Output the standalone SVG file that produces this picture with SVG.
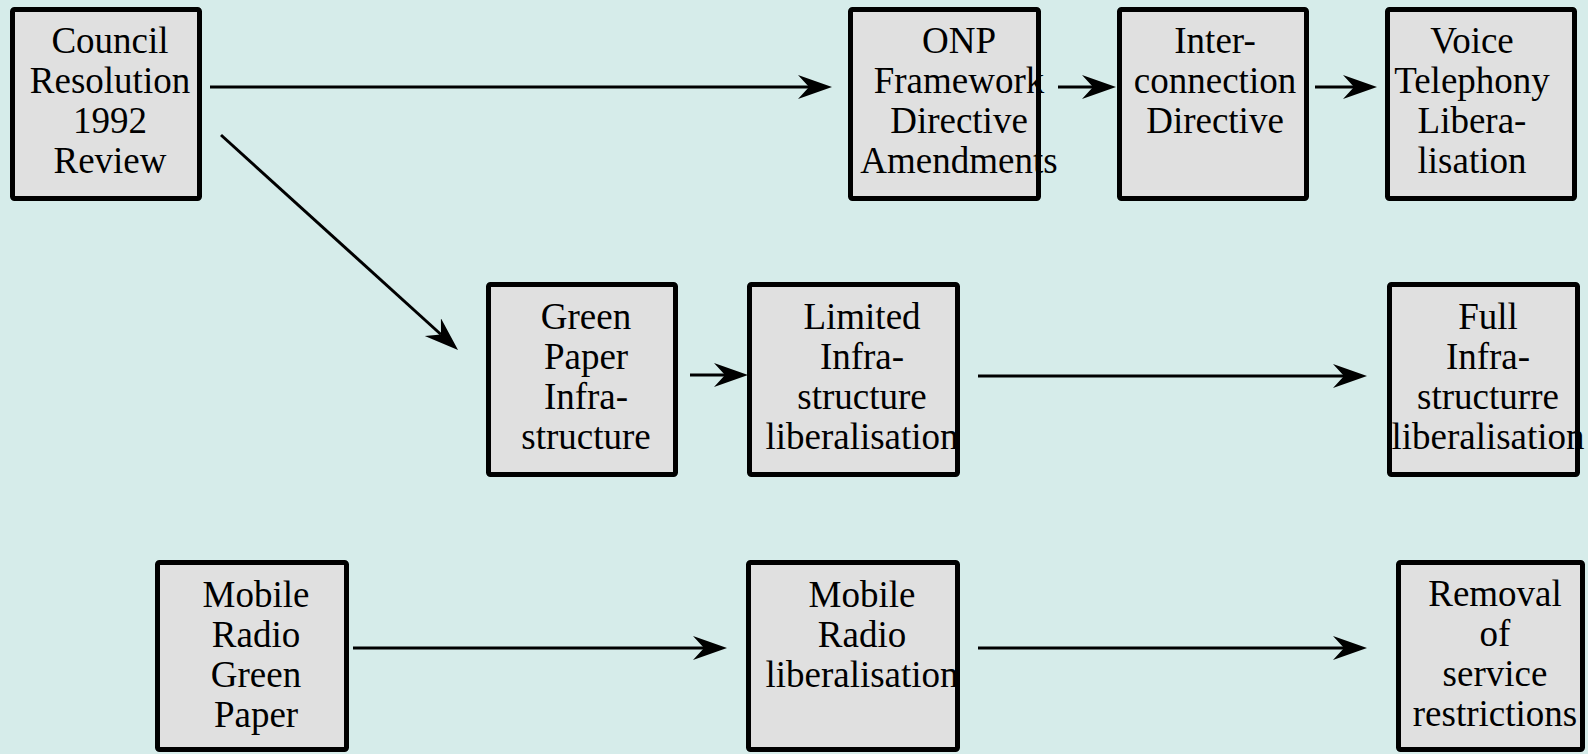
<svg xmlns="http://www.w3.org/2000/svg" width="1588" height="754" viewBox="0 0 1588 754">
  <defs>
    <style>
      .bg { fill: #d6ecea; }
      .box { fill: #e0e0e0; }
      .frame { fill: none; stroke: #000; stroke-width: 5; }
      .label { font-family: "Liberation Serif", "Times New Roman", serif; font-size: 37px; fill: #000; text-anchor: middle; }
      .link { stroke: #000; stroke-width: 3; fill: none; marker-end: url(#head); }
    </style>
    <marker id="head" markerUnits="userSpaceOnUse" markerWidth="36" markerHeight="26" refX="11" refY="12" orient="auto" viewBox="0 0 36 26">
      <path d="M0,0 L34,12 L0,24 L11,12 Z" fill="#000"/>
    </marker>
  </defs>

  <rect class="bg" x="0" y="0" width="1588" height="754"/>

  <!-- top row -->
  <g id="council">
    <rect class="box" x="12.5" y="9.5" width="187" height="189" rx="2"/>
    <text class="label"><tspan x="110" y="53">Council</tspan><tspan x="110" y="93">Resolution</tspan><tspan x="110" y="133">1992</tspan><tspan x="110" y="173">Review</tspan></text>
    <rect class="frame" x="12.5" y="9.5" width="187" height="189" rx="2"/>
  </g>
  <g id="onp">
    <rect class="box" x="850.5" y="9.5" width="188" height="189" rx="2"/>
    <text class="label"><tspan x="959" y="53">ONP</tspan><tspan x="959" y="93">Framework</tspan><tspan x="959" y="133">Directive</tspan><tspan x="959" y="173">Amendments</tspan></text>
    <rect class="frame" x="850.5" y="9.5" width="188" height="189" rx="2"/>
  </g>
  <g id="interconnection">
    <rect class="box" x="1119.5" y="9.5" width="187" height="189" rx="2"/>
    <text class="label"><tspan x="1215" y="53">Inter-</tspan><tspan x="1215" y="93">connection</tspan><tspan x="1215" y="133">Directive</tspan></text>
    <rect class="frame" x="1119.5" y="9.5" width="187" height="189" rx="2"/>
  </g>
  <g id="voice">
    <rect class="box" x="1387.5" y="9.5" width="187" height="189" rx="2"/>
    <text class="label"><tspan x="1472" y="53">Voice</tspan><tspan x="1472" y="93">Telephony</tspan><tspan x="1472" y="133">Libera-</tspan><tspan x="1472" y="173">lisation</tspan></text>
    <rect class="frame" x="1387.5" y="9.5" width="187" height="189" rx="2"/>
  </g>

  <!-- middle row -->
  <g id="green-paper">
    <rect class="box" x="488.5" y="284.5" width="187" height="190" rx="2"/>
    <text class="label"><tspan x="586" y="329">Green</tspan><tspan x="586" y="369">Paper</tspan><tspan x="586" y="409">Infra-</tspan><tspan x="586" y="449">structure</tspan></text>
    <rect class="frame" x="488.5" y="284.5" width="187" height="190" rx="2"/>
  </g>
  <g id="limited">
    <rect class="box" x="749.5" y="284.5" width="208" height="190" rx="2"/>
    <text class="label"><tspan x="862" y="329">Limited</tspan><tspan x="862" y="369">Infra-</tspan><tspan x="862" y="409">structure</tspan><tspan x="862" y="449">liberalisation</tspan></text>
    <rect class="frame" x="749.5" y="284.5" width="208" height="190" rx="2"/>
  </g>
  <g id="full">
    <rect class="box" x="1389.5" y="284.5" width="188" height="190" rx="2"/>
    <text class="label"><tspan x="1488" y="329">Full</tspan><tspan x="1488" y="369">Infra-</tspan><tspan x="1488" y="409">structurre</tspan><tspan x="1488" y="449">liberalisation</tspan></text>
    <rect class="frame" x="1389.5" y="284.5" width="188" height="190" rx="2"/>
  </g>

  <!-- bottom row -->
  <g id="mobile-green-paper">
    <rect class="box" x="157.5" y="562.5" width="189" height="187" rx="2"/>
    <text class="label"><tspan x="256" y="607">Mobile</tspan><tspan x="256" y="647">Radio</tspan><tspan x="256" y="687">Green</tspan><tspan x="256" y="727">Paper</tspan></text>
    <rect class="frame" x="157.5" y="562.5" width="189" height="187" rx="2"/>
  </g>
  <g id="mobile-liberalisation">
    <rect class="box" x="748.5" y="562.5" width="209" height="187" rx="2"/>
    <text class="label"><tspan x="862" y="607">Mobile</tspan><tspan x="862" y="647">Radio</tspan><tspan x="862" y="687">liberalisation</tspan></text>
    <rect class="frame" x="748.5" y="562.5" width="209" height="187" rx="2"/>
  </g>
  <g id="removal">
    <rect class="box" x="1398.5" y="562.5" width="184" height="187" rx="2"/>
    <text class="label"><tspan x="1495" y="606">Removal</tspan><tspan x="1495" y="646">of</tspan><tspan x="1495" y="686">service</tspan><tspan x="1495" y="726">restrictions</tspan></text>
    <rect class="frame" x="1398.5" y="562.5" width="184" height="187" rx="2"/>
  </g>

  <!-- connectors: each line stops at the arrowhead notch, 23px short of the tip -->
  <g id="connectors">
    <line class="link" x1="210" y1="87" x2="809" y2="87"/>
    <line class="link" x1="221" y1="135" x2="441" y2="334.5"/>
    <line class="link" x1="1058" y1="87" x2="1093" y2="87"/>
    <line class="link" x1="1315" y1="87" x2="1354" y2="87"/>
    <line class="link" x1="690" y1="375" x2="725" y2="375"/>
    <line class="link" x1="978" y1="376" x2="1344" y2="376"/>
    <line class="link" x1="353" y1="648" x2="704" y2="648"/>
    <line class="link" x1="978" y1="648" x2="1344" y2="648"/>
  </g>
</svg>
